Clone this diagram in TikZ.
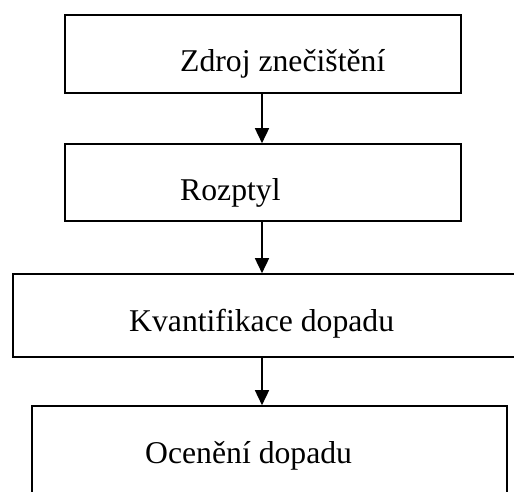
\documentclass[tikz,border=0pt]{standalone}
\usepackage{fontspec}
\setmainfont{Liberation Serif}
\usetikzlibrary{arrows.meta}
\tikzset{
  stagebox/.style={draw, line width=1.6pt, rectangle, inner sep=0pt},
  stagetext/.style={anchor=base west, inner sep=0pt, font=\fontsize{31.7}{38}\selectfont},
  flow/.style={line width=1.6pt, -{Triangle[length=15pt, width=14pt]}}
}
\begin{document}
\begin{tikzpicture}[x=1pt,y=-1pt]
    \useasboundingbox (0,0) rectangle (514,492);
    \clip (0,0) rectangle (514,492);
    \fill[white] (0,0) rectangle (514,492);% background
    \node [stagebox, minimum width=396pt, minimum height=78pt] (Zdroj) at (263,54) {};
    \node [stagebox, minimum width=396pt, minimum height=77pt] (Rozptyl) at (263,182.5) {};
    \node [stagebox, minimum width=507pt, minimum height=83pt] (Kvant) at (266.5,315.5) {};
    \node [stagebox, minimum width=475pt, minimum height=100pt] (Oceneni) at (269.5,456) {};
    \node [stagetext] (ZdrojText) at (180,72) {Zdroj znečištění};
    \node [stagetext] (RozptylText) at (180,200) {Rozptyl};
    \node [stagetext] (KvantText) at (129,331) {Kvantifikace dopadu};
    \node [stagetext] (OceneniText) at (145,463) {Ocenění dopadu};
    \draw [flow] (Zdroj.south -| 262,0) -- (Rozptyl.north -| 262,0);
    \draw [flow] (Rozptyl.south -| 262,0) -- (Kvant.north -| 262,0);
    \draw [flow] (Kvant.south -| 262,0) -- (Oceneni.north -| 262,0);
  \end{tikzpicture}
\end{document}
